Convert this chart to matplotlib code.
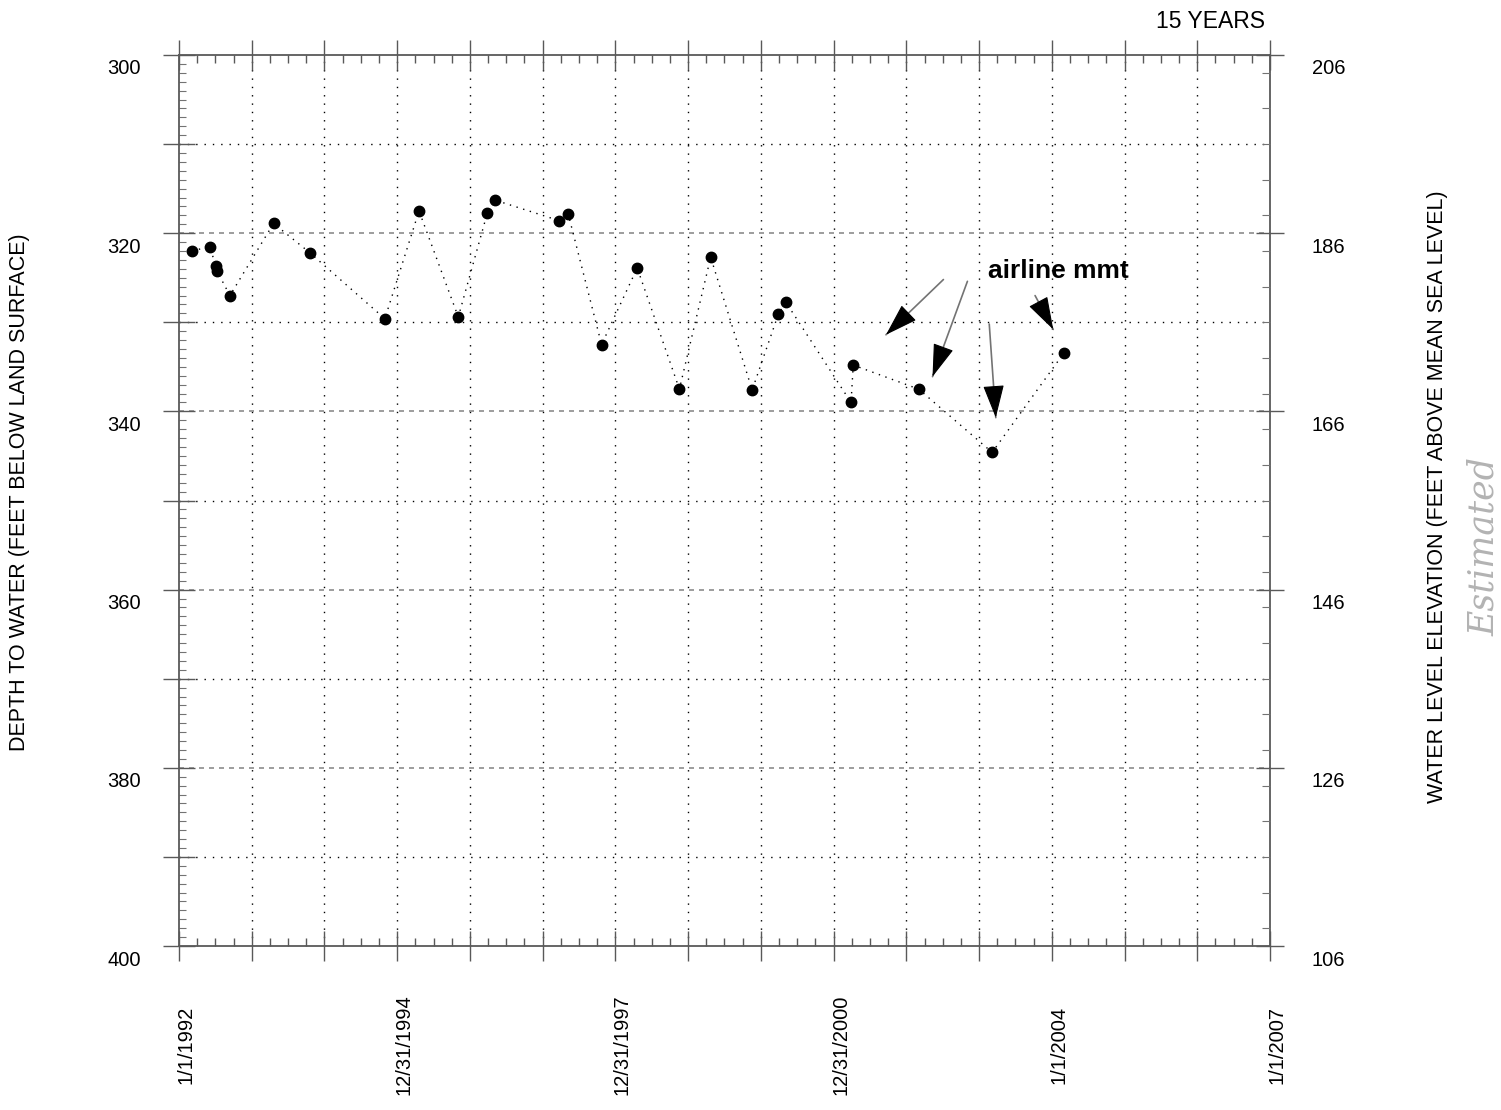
import matplotlib.pyplot as plt
import matplotlib.transforms as mtransforms
from matplotlib.ticker import MultipleLocator, FixedLocator, FuncFormatter

plt.rcParams['font.family'] = ['Liberation Sans', 'DejaVu Sans']

# Measurement dates (decimal years) and depth to water (feet below land surface)
dates = [1992.18, 1992.42, 1992.51, 1992.52, 1992.70, 1993.30, 1993.80, 1994.83,
         1995.30, 1995.84, 1996.24, 1996.35, 1997.23, 1997.35, 1997.81, 1998.30,
         1998.88, 1999.31, 1999.88, 2000.24, 2000.34, 2001.24, 2001.27, 2002.17,
         2003.18, 2004.17]
depth = [322.0, 321.5, 323.7, 324.2, 327.0, 318.9, 322.2, 329.6,
         317.5, 329.4, 317.7, 316.3, 318.6, 317.8, 332.5, 323.9,
         337.5, 322.7, 337.6, 329.1, 327.7, 339.0, 334.8, 337.5,
         344.6, 333.4]

# x tick labels
label_years = [1992, 1995, 1998, 2001, 2004, 2007]
label_text = ['1/1/1992', '12/31/1994', '12/31/1997', '12/31/2000', '1/1/2004', '1/1/2007']

# "airline mmt" arrows: start and tip in data units
arrow_start_x = [2002.51, 2002.84, 2003.14, 2003.77]
arrow_start_y = [325.2, 325.4, 330.2, 327.0]
arrow_tip_x = [2001.72, 2002.36, 2003.23, 2004.02]
arrow_tip_y = [331.4, 336.1, 340.7, 330.8]

land_surface = 506  # elevation = 506 - depth

fig = plt.figure(figsize=(15.01, 11.10), dpi=100)
ax = fig.add_axes([179 / 1501, 1 - 946 / 1110, (1270 - 179) / 1501, (946 - 55) / 1110])

ax.set_xlim(1992, 2007)
ax.set_ylim(400, 300)

# grid
for yr in range(1993, 2007):
    ax.axvline(yr, color='black', lw=1.0, ls=(0, (1, 5)), zorder=1)
for d in range(310, 400, 10):
    if d % 20 == 0:
        ax.axhline(d, color='0.55', lw=1.2, ls=(0, (3, 3)), zorder=1)
    else:
        ax.axhline(d, color='black', lw=1.0, ls=(0, (1, 5)), zorder=1)

ax.plot(dates, depth, color='black', lw=1.0, ls=(0, (1, 4)), zorder=2)
ax.plot(dates, depth, 'o', color='black', ms=7.5, zorder=3)

# ticks
ax.xaxis.set_major_locator(MultipleLocator(1))
ax.xaxis.set_minor_locator(MultipleLocator(0.25))
lab = dict(zip(label_years, label_text))
ax.xaxis.set_major_formatter(FuncFormatter(lambda v, p: lab.get(int(round(v)), '')))
ax.yaxis.set_major_locator(MultipleLocator(10))
ax.yaxis.set_minor_locator(MultipleLocator(1))
ax.yaxis.set_major_formatter(FuncFormatter(lambda v, p: f'{v:.0f}' if round(v) % 20 == 0 else ''))

ax.tick_params(axis='x', which='major', direction='inout', length=22, width=1, color='0.35',
               top=True, bottom=True, labelsize=14.5, pad=60, labelrotation=90)
ax.tick_params(axis='x', which='minor', direction='in', length=6, width=1, color='0.35',
               top=True, bottom=True)
ax.tick_params(axis='y', which='major', direction='inout', length=23, width=1, color='0.35',
               labelsize=14.5, pad=16)
ax.tick_params(axis='y', which='minor', direction='in', length=5, width=0.8, color='0.45')

for lbl in ax.get_xticklabels():
    lbl.set_verticalalignment('center')
    lbl.set_transform(lbl.get_transform() + mtransforms.ScaledTranslation(0.07, 0, fig.dpi_scale_trans))
for lbl in ax.get_yticklabels():
    lbl.set_transform(lbl.get_transform() + mtransforms.ScaledTranslation(0, -0.12, fig.dpi_scale_trans))

for sp in ax.spines.values():
    sp.set_color('0.35')
    sp.set_linewidth(1.3)

# right axis: water level elevation
ax2 = ax.twinx()
ax2.set_ylim(land_surface - 400, land_surface - 300)
ax2.yaxis.set_major_locator(FixedLocator(range(106, 207, 20)))
ax2.yaxis.set_minor_locator(MultipleLocator(4))
ax2.tick_params(axis='y', which='major', direction='inout', length=20, width=1, color='0.35',
                labelsize=14.5, pad=20)
ax2.tick_params(axis='y', which='minor', direction='in', length=6, width=0.8, color='0.45')
for lbl in ax2.get_yticklabels():
    lbl.set_transform(lbl.get_transform() + mtransforms.ScaledTranslation(0, -0.12, fig.dpi_scale_trans))
for sp in ax2.spines.values():
    sp.set_visible(False)

# annotations
ax.text(2003.12, 324.2, 'airline mmt', fontsize=19, fontweight='bold', va='center', ha='left')
for sx, sy, tx, ty in zip(arrow_start_x, arrow_start_y, arrow_tip_x, arrow_tip_y):
    # gray shaft, black dart head
    ax.annotate('', xy=(tx, ty), xytext=(sx, sy),
                arrowprops=dict(arrowstyle='-', color='0.45', lw=1.2, shrinkA=0, shrinkB=0))
    hx = tx + (sx - tx) * 0.3
    hy = ty + (sy - ty) * 0.3
    ax.annotate('', xy=(tx, ty), xytext=(hx, hy),
                arrowprops=dict(arrowstyle='-|>,head_length=1.4,head_width=0.45',
                                color='black', lw=0.8, mutation_scale=15, shrinkA=0, shrinkB=0))

fig.text(1210 / 1501, 1 - 22 / 1110, '15 YEARS', fontsize=16.5, ha='center', va='center')
fig.text(20 / 1501, 1 - 492 / 1110, 'DEPTH TO WATER (FEET BELOW LAND SURFACE)',
         rotation=90, fontsize=15.5, ha='center', va='center')
fig.text(1437 / 1501, 1 - 497 / 1110, 'WATER LEVEL ELEVATION (FEET ABOVE MEAN SEA LEVEL)',
         rotation=90, fontsize=15.5, ha='center', va='center')
fig.text(1484 / 1501, 1 - 546 / 1110, 'Estimated', rotation=90, fontsize=25,
         family='DejaVu Serif', style='italic', color='0.7', ha='center', va='center')

plt.savefig('out.png', dpi=100)
